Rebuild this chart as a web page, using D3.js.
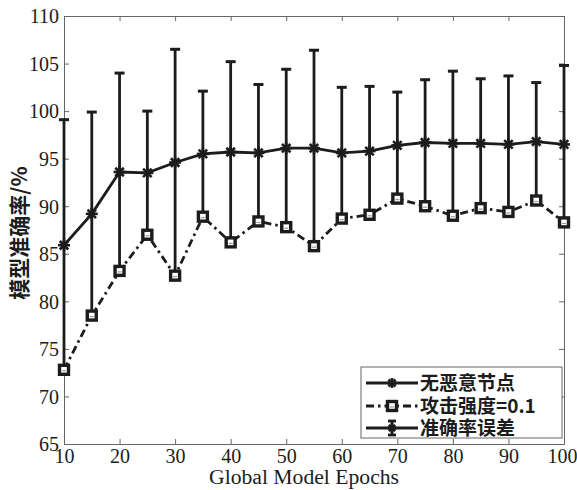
<!DOCTYPE html>
<html><head><meta charset="utf-8">
<script src="https://cdn.jsdelivr.net/npm/d3@7/dist/d3.min.js"></script>
<style>body{margin:0;background:#fff}</style>
</head><body>
<svg id="c" width="577" height="490"></svg>
<script>
const epochs = [10,15,20,25,30,35,40,45,50,55,60,65,70,75,80,85,90,95,100];
const noMalicious = [85.9,89.2,93.6,93.5,94.6,95.5,95.7,95.6,96.1,96.1,95.6,95.8,96.4,96.7,96.6,96.6,96.5,96.8,96.5];
const attack01 = [72.8,78.5,83.2,87.0,82.7,88.9,86.2,88.4,87.8,85.8,88.7,89.1,90.8,90.0,89.0,89.8,89.4,90.6,88.3];
const accError = [13.2,10.7,10.4,6.5,11.9,6.6,9.5,7.2,8.3,10.3,6.9,6.8,5.6,6.6,7.6,6.8,7.2,6.2,8.3];
const xTicks = [10,20,30,40,50,60,70,80,90,100];
const yTicks = [65,70,75,80,85,90,95,100,105,110];
const legendLabels = ["无恶意节点","攻击强度=0.1","准确率误差"];
const xTitle = "Global Model Epochs";
const yTitle = "模型准确率/%";

const W = 577, H = 490;
const L = 64, R = 564, T = 16, B = 444;
const ink = "#1c1c1c";
const serif = "'Liberation Serif', 'DejaVu Serif', serif";
const cjk = "'Noto Sans CJK SC', 'Noto Sans', sans-serif";

const svg = d3.select("#c");
svg.append("rect").attr("width", W).attr("height", H).attr("fill", "#fff");

const x = d3.scaleLinear().domain([10,100]).range([L,R]);
const y = d3.scaleLinear().domain([65,110]).range([B,T]);

// axes (box with inward ticks)
const axisColor = "#666";
function styleAxis(g, noText) {
  g.selectAll(".domain").attr("stroke", axisColor).attr("stroke-width", 1);
  g.selectAll(".tick line").attr("stroke", axisColor).attr("stroke-width", 1);
  g.selectAll("text").attr("font-family", serif).attr("font-size", 20).attr("fill", ink);
  if (noText) g.selectAll("text").remove();
}
const gx = svg.append("g").attr("transform", `translate(0,${B})`)
  .call(d3.axisBottom(x).tickValues(xTicks).tickSize(-5).tickFormat(d3.format("d")).tickSizeOuter(0));
styleAxis(gx);
gx.selectAll("text").attr("dy", "0.71em").attr("y", 5);
gx.selectAll(".tick").filter(d => d === 100).select("text").attr("text-anchor", "end").attr("x", 13);
const gxt = svg.append("g").attr("transform", `translate(0,${T})`)
  .call(d3.axisTop(x).tickValues(xTicks).tickSize(-5).tickSizeOuter(0));
styleAxis(gxt, true);
const gy = svg.append("g").attr("transform", `translate(${L},0)`)
  .call(d3.axisLeft(y).tickValues(yTicks).tickSize(-5).tickFormat(d3.format("d")).tickSizeOuter(0));
styleAxis(gy);
gy.selectAll("text").attr("x", -5).attr("dy", "0.34em");
const gyr = svg.append("g").attr("transform", `translate(${R},0)`)
  .call(d3.axisRight(y).tickValues(yTicks).tickSize(-5).tickSizeOuter(0));
styleAxis(gyr, true);

// titles
svg.append("text").attr("x", 304).attr("y", 484).attr("text-anchor", "middle")
  .attr("font-family", serif).attr("font-size", 20).attr("fill", ink)
  .attr("textLength", 190).attr("lengthAdjust", "spacingAndGlyphs").text(xTitle);
svg.append("text").attr("transform", `translate(27,233) rotate(-90)`).attr("text-anchor", "middle")
  .attr("font-family", cjk).attr("font-weight", "bold").attr("font-size", 21).attr("fill", ink).text(yTitle);

// error bars
const capW = 5;
const eb = svg.append("g").attr("stroke", ink).attr("stroke-width", 2.8);
epochs.forEach((e,i) => {
  const cx = x(e), top = y(noMalicious[i] + accError[i]), bot = y(noMalicious[i] - accError[i]);
  eb.append("line").attr("x1", cx).attr("x2", cx).attr("y1", top).attr("y2", bot);
  eb.append("line").attr("x1", cx-capW).attr("x2", cx+capW).attr("y1", top).attr("y2", top).attr("stroke-width", 3);
  eb.append("line").attr("x1", cx-capW).attr("x2", cx+capW).attr("y1", bot).attr("y2", bot).attr("stroke-width", 3);
});

// lines
const line = d3.line().x(d => x(d[0])).y(d => y(d[1]));
svg.append("path").datum(epochs.map((e,i)=>[e,attack01[i]])).attr("d", line)
  .attr("fill","none").attr("stroke", ink).attr("stroke-width", 2.8).attr("stroke-dasharray","8,4,2.5,4");
svg.append("path").datum(epochs.map((e,i)=>[e,noMalicious[i]])).attr("d", line)
  .attr("fill","none").attr("stroke", ink).attr("stroke-width", 2.8);

// markers
function star(g, cx, cy, r) {
  const s = g.append("g").attr("stroke", ink).attr("stroke-width", 2.6);
  for (let k = 0; k < 4; k++) {
    const a = k * Math.PI / 4;
    s.append("line").attr("x1", cx - r*Math.cos(a)).attr("y1", cy - r*Math.sin(a))
      .attr("x2", cx + r*Math.cos(a)).attr("y2", cy + r*Math.sin(a));
  }
}
function square(g, cx, cy, s) {
  g.append("rect").attr("x", cx - s/2).attr("y", cy - s/2).attr("width", s).attr("height", s)
    .attr("fill", "#fff").attr("stroke", ink).attr("stroke-width", 3.4);
  g.append("line").attr("x1", cx-2).attr("x2", cx+2).attr("y1", cy+1).attr("y2", cy+1).attr("stroke", "#999").attr("stroke-width", 1.2);
}
const mk = svg.append("g");
epochs.forEach((e,i) => square(mk, x(e), y(attack01[i]), 9));
epochs.forEach((e,i) => star(mk, x(e), y(noMalicious[i]), 6));

// legend
const lg = svg.append("g");
lg.append("rect").attr("x", 361).attr("y", 367).attr("width", 201).attr("height", 71)
  .attr("fill", "#fff").attr("stroke", axisColor).attr("stroke-width", 1);
const rows = [383, 406, 428];
const lx1 = 366, lx2 = 418, lm = 392;
// row 1
lg.append("line").attr("x1", lx1).attr("x2", lx2).attr("y1", rows[0]).attr("y2", rows[0]).attr("stroke", ink).attr("stroke-width", 2.8);
star(lg, lm, rows[0], 5);
// row 2
lg.append("line").attr("x1", lx1).attr("x2", lx2).attr("y1", rows[1]).attr("y2", rows[1]).attr("stroke", ink).attr("stroke-width", 2.8).attr("stroke-dasharray","8,4,2.5,4");
square(lg, lm, rows[1], 9);
// row 3
lg.append("line").attr("x1", lx1).attr("x2", lx2).attr("y1", rows[2]).attr("y2", rows[2]).attr("stroke", ink).attr("stroke-width", 2.8);
lg.append("line").attr("x1", lm).attr("x2", lm).attr("y1", rows[2]-7).attr("y2", rows[2]+7).attr("stroke", ink).attr("stroke-width", 2.8);
lg.append("line").attr("x1", lm-4).attr("x2", lm+4).attr("y1", rows[2]-7).attr("y2", rows[2]-7).attr("stroke", ink).attr("stroke-width", 2.8);
lg.append("line").attr("x1", lm-4).attr("x2", lm+4).attr("y1", rows[2]+7).attr("y2", rows[2]+7).attr("stroke", ink).attr("stroke-width", 2.8);
star(lg, lm, rows[2], 4.5);
legendLabels.forEach((t,i) => {
  lg.append("text").attr("x", 420).attr("y", rows[i]).attr("dy", "0.36em")
    .attr("font-family", cjk).attr("font-weight", "bold").attr("font-size", 19).attr("fill", ink).text(t);
});
</script>
</body></html>
